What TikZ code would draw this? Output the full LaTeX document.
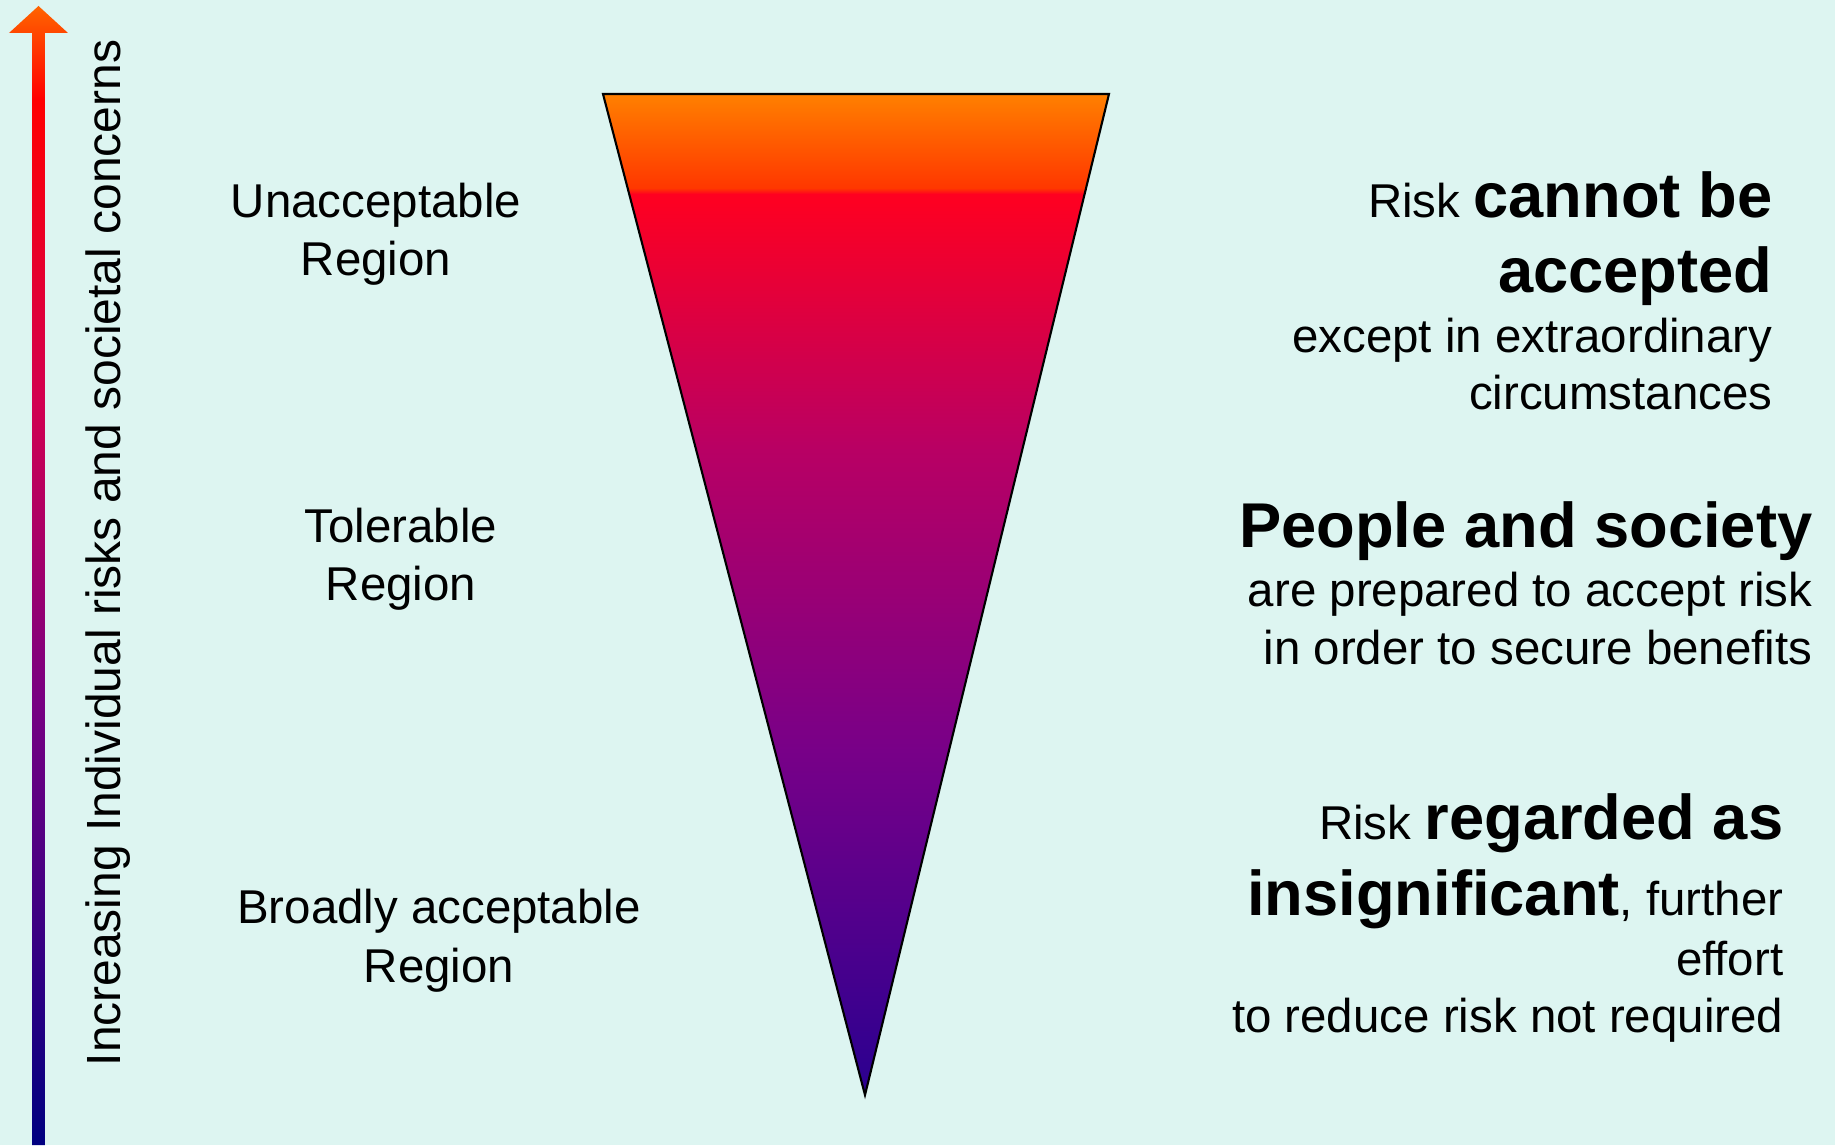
\documentclass[tikz,border=0pt]{standalone}
\usepackage{fontspec}
\setmainfont{Liberation Sans}
\usetikzlibrary{positioning}

\definecolor{mint}{RGB}{221,245,241}

% colours of the triangle, bottom to top
\definecolor{triA}{RGB}{42,0,144}
\definecolor{triB}{RGB}{120,0,136}
\definecolor{triC}{RGB}{184,0,100}
\definecolor{triD}{RGB}{255,0,32}
\definecolor{triE}{RGB}{255,55,0}
\definecolor{triF}{RGB}{255,128,0}

% colours of the arrow, bottom to top
\definecolor{arrA}{RGB}{0,0,128}
\definecolor{arrB}{RGB}{40,0,130}
\definecolor{arrC}{RGB}{120,0,130}
\definecolor{arrD}{RGB}{210,0,80}
\definecolor{arrE}{RGB}{255,0,0}
\definecolor{arrF}{RGB}{255,100,0}

% inner 25bp..75bp is stretched over the shaded path
\pgfdeclareverticalshading{triangleramp}{100bp}{%
  color(0bp)=(triA); color(25bp)=(triA); color(42.2bp)=(triB);
  color(57.2bp)=(triC); color(70bp)=(triD); color(70.3bp)=(triE);
  color(75bp)=(triF); color(100bp)=(triF)}
\pgfdeclareverticalshading{arrowramp}{100bp}{%
  color(0bp)=(arrA); color(25bp)=(arrA); color(31.4bp)=(arrB);
  color(44.5bp)=(arrC); color(57.7bp)=(arrD); color(70.9bp)=(arrE);
  color(75bp)=(arrF); color(100bp)=(arrF)}

\newcommand{\riskbold}[1]{{\fontsize{18}{22}\selectfont\bfseries #1}}

\begin{document}
\begin{tikzpicture}[
    txt/.style={font=\fontsize{13.5}{16}\selectfont, inner sep=0pt, anchor=base},
    rtxt/.style={txt, anchor=base east}
  ]
  % background
  \fill[mint] (0,0) rectangle (18.35,11.45);
  \useasboundingbox (0,0) rectangle (18.35,11.45);

  % rising arrow on the left
  \shade[shading=arrowramp] (0.32,0) -- (0.32,11.12) -- (0.09,11.12) -- (0.385,11.39)
      -- (0.68,11.12) -- (0.45,11.12) -- (0.45,0) -- cycle;
  \node[txt, rotate=90, font=\fontsize{13.65}{16}\selectfont] (axis) at (1.20,5.92)
      {Increasing Individual risks and societal concerns};

  % the risk triangle
  \shadedraw[shading=triangleramp, draw=black, line width=0.6pt]
      (6.03,10.51) -- (11.09,10.51) -- (8.65,0.50) -- cycle;

  % regions
  \node[txt] (unaccA) at (3.76,9.27) {Unacceptable};
  \node[txt] (unaccB) at (3.76,8.69) {Region};
  \node[txt] (tolA) at (4.01,6.02) {Tolerable};
  \node[txt] (tolB) at (4.01,5.44) {Region};
  \node[txt] (broadA) at (4.39,2.22) {Broadly acceptable};
  \node[txt] (broadB) at (4.39,1.63) {Region};

  % what each region means
  \node[rtxt] (noA) at (17.73,9.27) {Risk \riskbold{cannot be}};
  \node[rtxt] (noB) at (17.73,8.52) {\riskbold{accepted}};
  \node[rtxt] (noC) at (17.73,7.92) {except in extraordinary};
  \node[rtxt] (noD) at (17.73,7.35) {circumstances};

  \node[rtxt] (tolC) at (18.13,5.98) {\riskbold{People and society}};
  \node[rtxt] (tolD) at (18.13,5.39) {are prepared to accept risk};
  \node[rtxt] (tolE) at (18.13,4.81) {in order to secure benefits};

  \node[rtxt] (okA) at (17.84,3.06) {Risk \riskbold{regarded as}};
  \node[rtxt] (okB) at (17.84,2.30) {\riskbold{insignificant}, further};
  \node[rtxt] (okC) at (17.84,1.70) {effort};
  \node[rtxt] (okD) at (17.84,1.13) {to reduce risk not required};
\end{tikzpicture}
\end{document}
